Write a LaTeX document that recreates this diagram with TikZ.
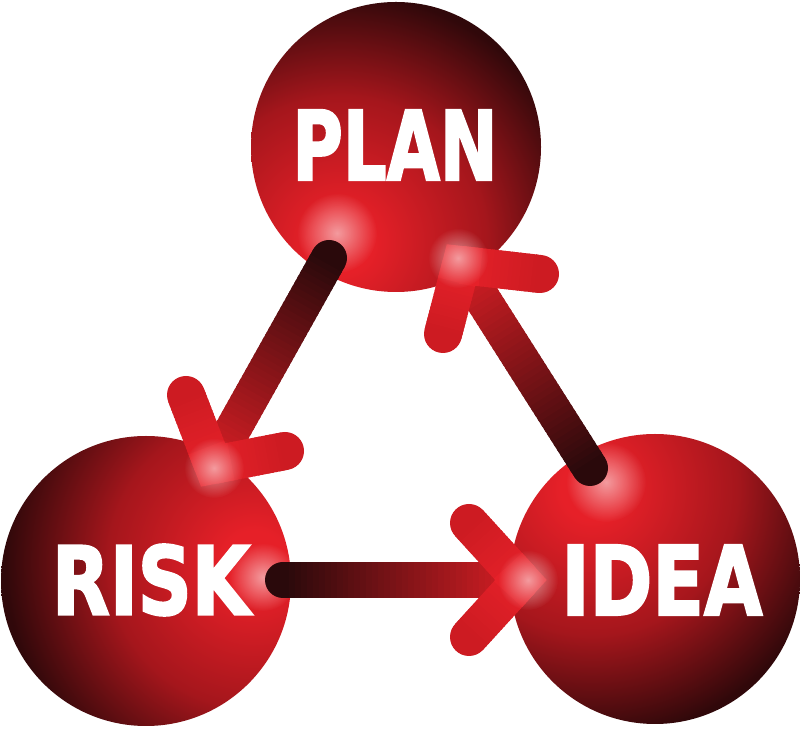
\documentclass[tikz,border=0pt]{standalone}
\usepackage{fontspec}
\newfontfamily\lblfont{DejaVu Sans}[BoldFeatures={FakeBold=2.5}]
\usetikzlibrary{calc,fadings}
\definecolor{sred}{RGB}{230,32,40}
\definecolor{smid}{RGB}{165,22,28}
\definecolor{sdark}{RGB}{48,8,10}
\definecolor{tdark}{RGB}{42,9,11}
\definecolor{thead}{RGB}{214,30,36}
\definecolor{ared}{RGB}{230,33,41}
\definecolor{aend}{RGB}{205,27,34}
\pgfdeclareradialshading{sphshade}{\pgfpoint{0bp}{0bp}}{color(0bp)=(sred); color(3bp)=(sred); color(14bp)=(smid); color(24bp)=(sdark); color(50bp)=(sdark)}
\tikzfading[name=glowfade, inner color=transparent!45, outer color=transparent!100]
\newcommand\gradseg[6]{% start, end, start colour, end colour, steps, width
  \foreach \i in {0,...,#5}{%
    \pgfmathsetmacro\ta{\i/(#5+1)}%
    \pgfmathsetmacro\tb{min(1,(\i+1.6)/(#5+1))}%
    \pgfmathsetmacro\pc{100*\i/#5}%
    \draw[line width=#6pt, color=#4!\pc!#3] ($(#1)!\ta!(#2)$) -- ($(#1)!\tb!(#2)$);
  }}
\newcommand\chevronarrow[4]{% tail, tip, arm1, arm2
  \fill[tdark] (#1) circle (18);
  \gradseg{#1}{#2}{tdark}{thead}{39}{36}
  \fill[aend] (#3) circle (19);
  \fill[aend] (#4) circle (19);
  \gradseg{#3}{#2}{aend}{ared}{19}{38}
  \gradseg{#4}{#2}{aend}{ared}{19}{38}
  \draw[ared, line width=38pt, line join=miter] ($(#2)!0.25!(#3)$) -- (#2) -- ($(#2)!0.25!(#4)$);
}
\tikzset{
  sphere/.style={circle, minimum size=290pt, inner sep=0pt,
    path picture={\shade[shading=sphshade] ($(path picture bounding box.center)+(#1:110)$) circle (260);}},
  lbl/.style={text=white, inner sep=0pt, font=\lblfont\bfseries\fontsize{96}{96}\selectfont},
  glow/.style={white, path fading=glowfade},
}
\begin{document}
\begin{tikzpicture}[x=1pt,y=1pt]
\useasboundingbox (0,0) rectangle (800,730);
\fill[white] (0,0) rectangle (800,730);
% spheres
\node[sphere=240] (plan) at (396,583) {};
\node[sphere=10] (risk) at (146,149) {};
\node[sphere=125] (idea) at (655,151) {};
% glows on spheres
\fill[glow] (337,497) circle (40);
\fill[glow] (263,153) circle (34);
\fill[glow] (606,248) circle (40);
% arrow points
\coordinate (a1t) at (329,472); \coordinate (a1p) at (213,265);
\coordinate (a1l) at (186,335); \coordinate (a1r) at (285,279);
\coordinate (a2t) at (283,150); \coordinate (a2p) at (521,150);
\coordinate (a2l) at (469,207); \coordinate (a2r) at (469,93);
\coordinate (a3t) at (590,262); \coordinate (a3p) at (461,465);
\coordinate (a3l) at (443,396); \coordinate (a3r) at (540,456);
\chevronarrow{a1t}{a1p}{a1l}{a1r}
\chevronarrow{a2t}{a2p}{a2l}{a2r}
\chevronarrow{a3t}{a3p}{a3l}{a3r}
% glows on arrow tips
\fill[glow] (214,262) circle (30);
\fill[glow] (528,150) circle (30);
\fill[glow] (458,472) circle (30);
% labels
\node[lbl] (planT) at (395,585) {\resizebox{205pt}{70pt}{PLAN}};
\node[lbl] (riskT) at (151,150) {\resizebox{198pt}{70pt}{RISK}};
\node[lbl] (ideaT) at (662,150) {\resizebox{201pt}{70pt}{IDEA}};
\end{tikzpicture}
\end{document}
